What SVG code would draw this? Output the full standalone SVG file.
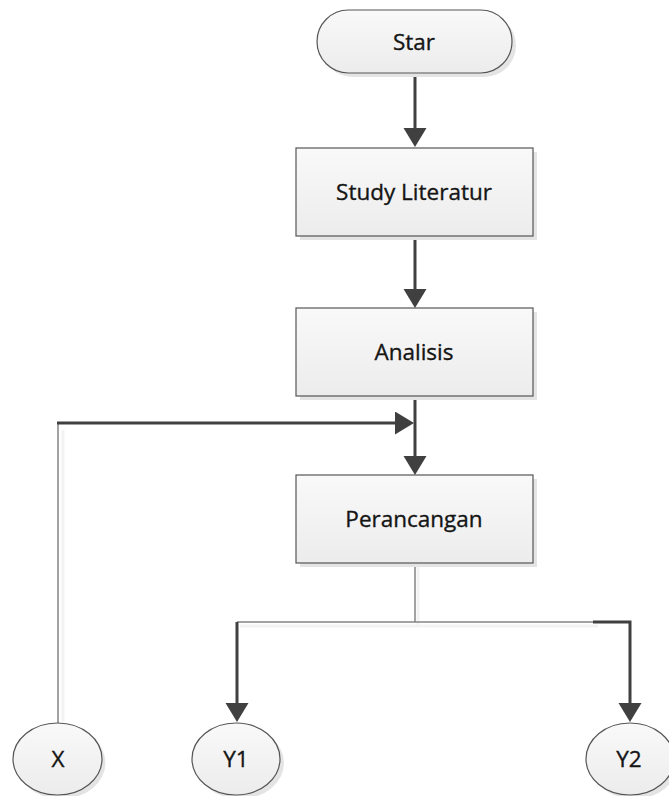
<svg xmlns="http://www.w3.org/2000/svg" width="669" height="796" viewBox="0 0 669 796">
  <style>
    .shape { fill: url(#fillGrad); stroke: #555555; stroke-width: 1.2; }
    .shadow { fill: #e4e4e4; }
    .label { font-family: "Open Sans", "Liberation Sans", sans-serif; font-size: 22.5px; fill: #151515; stroke: #151515; stroke-width: 0.35; text-anchor: middle; }
    .flow { fill: none; stroke: #404040; stroke-width: 3; }
    .thin { fill: none; stroke: #858585; stroke-width: 1.5; }
    .thinShadow { fill: none; stroke: #f3f3f3; stroke-width: 3; }
  </style>
  <defs>
    <linearGradient id="fillGrad" x1="0" y1="0" x2="0" y2="1">
      <stop offset="0" stop-color="#f9f9f9"/>
      <stop offset="1" stop-color="#ececec"/>
    </linearGradient>
    <marker id="arrow" markerUnits="userSpaceOnUse" markerWidth="20" markerHeight="24" viewBox="0 0 20 24" refX="14" refY="11.5" orient="auto">
      <path d="M0,0 L19,11.5 L0,23 Z" fill="#404040"/>
    </marker>
  </defs>

  <!-- connectors -->
  <g id="connectors">
    <!-- faint shadows under the thin links -->
    <path class="thinShadow" d="M63,430 V722"/>
    <path class="thinShadow" d="M418,566 V626 M240,626 H598"/>
    <!-- Star -> Study Literatur -->
    <line class="flow" x1="415" y1="73" x2="415" y2="142" marker-end="url(#arrow)"/>
    <!-- Study Literatur -> Analisis -->
    <line class="flow" x1="415" y1="236" x2="415" y2="303" marker-end="url(#arrow)"/>
    <!-- Analisis -> Perancangan -->
    <line class="flow" x1="415" y1="396" x2="415" y2="470" marker-end="url(#arrow)"/>
    <!-- X loops back into the main flow -->
    <path class="thin" d="M58,723 V423"/>
    <line class="flow" x1="57" y1="423" x2="409" y2="423" marker-end="url(#arrow)"/>
    <!-- Perancangan branches to Y1 and Y2 -->
    <path class="thin" d="M415,563 V622 M237,622 H593"/>
    <path class="flow" d="M237,622 V717" marker-end="url(#arrow)"/>
    <path class="flow" d="M593,622 H630 V717" marker-end="url(#arrow)"/>
  </g>

  <g id="star">
    <rect class="shadow" x="321" y="14" width="195" height="63" rx="31.5"/>
    <rect class="shape" x="317" y="10" width="195" height="63" rx="31.5"/>
    <text class="label" x="414" y="50">Star</text>
  </g>

  <g id="study-literatur">
    <rect class="shadow" x="300" y="152" width="237" height="88"/>
    <rect class="shape" x="296" y="148" width="237" height="88"/>
    <text class="label" x="414" y="200">Study Literatur</text>
  </g>

  <g id="analisis">
    <rect class="shadow" x="300" y="312" width="237" height="88"/>
    <rect class="shape" x="296" y="308" width="237" height="88"/>
    <text class="label" x="414" y="360">Analisis</text>
  </g>

  <g id="perancangan">
    <rect class="shadow" x="300" y="479" width="237" height="88"/>
    <rect class="shape" x="296" y="475" width="237" height="88"/>
    <text class="label" x="414" y="527">Perancangan</text>
  </g>

  <g id="x">
    <ellipse class="shadow" cx="61" cy="763" rx="44.5" ry="36"/>
    <ellipse class="shape" cx="57.5" cy="759" rx="44.5" ry="36"/>
    <text class="label" x="58" y="767">X</text>
  </g>

  <g id="y1">
    <ellipse class="shadow" cx="240" cy="763" rx="44" ry="36"/>
    <ellipse class="shape" cx="236" cy="759" rx="44" ry="36"/>
    <text class="label" x="236" y="767">Y1</text>
  </g>

  <g id="y2">
    <ellipse class="shadow" cx="634" cy="763" rx="44" ry="36"/>
    <ellipse class="shape" cx="630" cy="759" rx="44" ry="36"/>
    <text class="label" x="629" y="767">Y2</text>
  </g>
</svg>
